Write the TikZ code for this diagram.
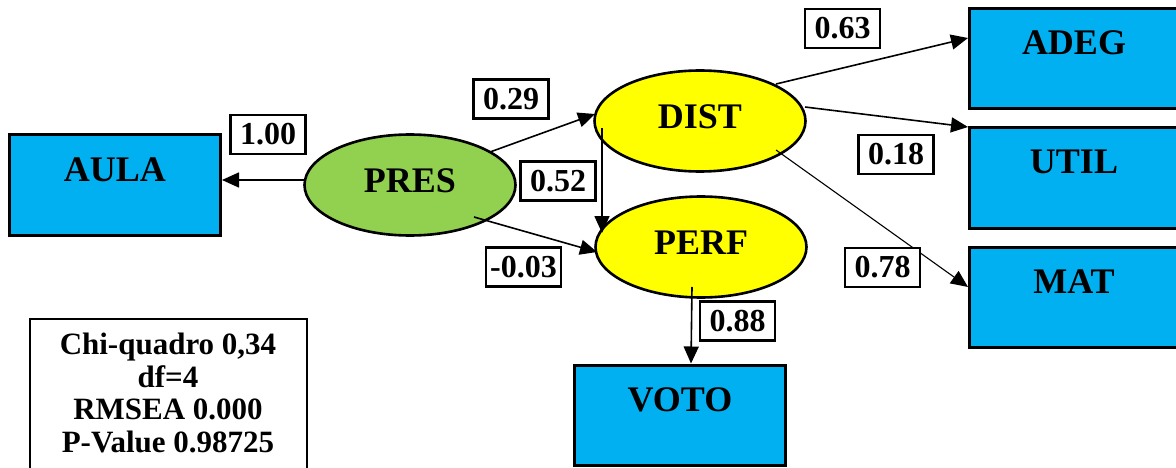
\documentclass[tikz,border=0pt]{standalone}
\usepackage{fontspec}
\setmainfont{Liberation Serif}
\usetikzlibrary{shapes.geometric,arrows.meta,calc}
\definecolor{indblue}{HTML}{00B0F0}
\definecolor{exogreen}{HTML}{92D050}
\definecolor{latyellow}{HTML}{FFFF00}
\tikzset{
  indicator/.style={draw=black, line width=3pt, fill=indblue, rectangle,
    minimum width=211pt, minimum height=100pt, inner sep=0pt},
  latent/.style={draw=black, line width=2.6pt, ellipse, inner sep=0pt,
    minimum width=211pt, minimum height=101pt, text depth=8pt,
    font=\fontsize{36}{40}\selectfont\bfseries},
  bigtext/.style={font=\fontsize{36}{40}\selectfont\bfseries, inner sep=0pt},
  coef/.style={draw=black, line width=2.4pt, fill=white, rectangle,
    minimum width=75pt, minimum height=39pt, inner sep=0pt,
    font=\fontsize{32}{34}\selectfont\bfseries},
  sempath/.style={draw=black, line width=1.6pt,
    -{Triangle[length=17pt,width=15pt]}},
  thinsempath/.style={draw=black, line width=1.1pt,
    -{Triangle[length=17pt,width=15pt]}},
}
\begin{document}
\begin{tikzpicture}[x=1pt, y=-1pt]
\useasboundingbox (0,0) rectangle (1176,468);
\clip (0,0) rectangle (1176,468);
\fill[white] (0,0) rectangle (1176,468);

% observed indicators
\node[indicator] (aula) at (115,185) {};
\node[indicator] (adeg) at (1075,59) {};
\node[indicator] (util) at (1075,178) {};
\node[indicator] (mat)  at (1075,297) {};
\node[indicator] (voto) at (680,415) {};
\node[bigtext] (aulaT) at (115,170) {AULA};
\node[bigtext] (adegT) at (1074,43) {ADEG};
\node[bigtext] (utilT) at (1074,162) {UTIL};
\node[bigtext] (matT)  at (1074,282) {MAT};
\node[bigtext] (votoT) at (680,400) {VOTO};

% latent constructs
\node[latent, fill=exogreen]  (pres) at (410,185) {PRES};
\node[latent, fill=latyellow] (dist) at (700,121) {DIST};
\node[latent, fill=latyellow] (perf) at (701,247) {PERF};

% structural and measurement paths
\draw[sempath] ($(pres.center)+(-105,-5)$) -- ($(aula.east)+(0,-5)$);
\draw[sempath] ($(pres.center)+(80,-33)$) -- ($(dist.center)+(-105,-7)$);
\draw[sempath] ($(pres.center)+(64,32)$) -- ($(perf.center)+(-104,5)$);
\draw[sempath] ($(dist.center)+(-98,7)$) -- ($(perf.center)+(-99,-14)$);
\draw[sempath] ($(dist.center)+(76,-37)$) -- ($(adeg.west)+(0,-21)$);
\draw[sempath] ($(dist.center)+(105,-14)$) -- ($(util.west)+(0,-51)$);
\draw[thinsempath] ($(dist.center)+(76,29)$) -- ($(mat.west)+(0,-10)$);
\draw[sempath] ($(perf.center)+(-9,40)$) -- ($(voto.north)+(11,0)$);

% path coefficients
\node[coef] (c100) at (268,134.5) {1.00};
\node[coef] (c029) at (511,99)    {0.29};
\node[coef] (c052) at (558,181)   {0.52};
\node[coef] (c003) at (523.5,267) {-0.03};
\node[coef] (c063) at (842.5,28.5){0.63};
\node[coef] (c018) at (896,154.5) {0.18};
\node[coef] (c078) at (882.5,267.5){0.78};
\node[coef] (c088) at (737.5,321) {0.88};

% fit statistics
\node[draw=black, line width=2.4pt, fill=white, rectangle, anchor=north west,
  minimum width=277pt, minimum height=170pt, inner sep=0pt] (stats) at (29,318) {};
\node[align=center, inner sep=0pt,
  font=\fontsize{31}{32.5}\selectfont\bfseries] (statsT) at (168,393)
  {Chi-quadro 0,34\\df=4\\RMSEA 0.000\\P-Value 0.98725};
\end{tikzpicture}
\end{document}
